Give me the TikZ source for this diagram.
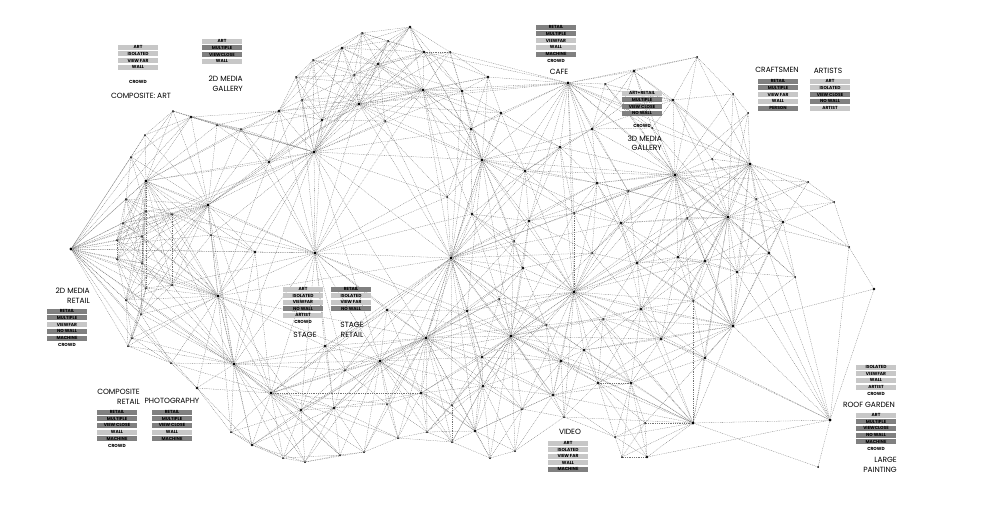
\documentclass[tikz,border=0pt]{standalone}
\usepackage{fontspec}
\setmainfont{Poppins}
\usetikzlibrary{backgrounds}

\definecolor{tagdark}{gray}{0.50}
\definecolor{taglight}{gray}{0.78}

\tikzset{
  link/.style={draw=black!55, line width=0.3pt, dash pattern=on 0.9pt off 0.9pt},
  dot/.style={circle, fill=black, inner sep=0pt},
  tagbox/.style={rectangle, minimum width=40pt, minimum height=5pt, inner sep=0pt,
    font=\fontsize{4.4}{4.4}\selectfont\bfseries},
  zonename/.style={inner sep=0pt, font=\fontsize{7.5}{9.5}\selectfont}
}

\begin{document}
\begin{tikzpicture}[x=1pt,y=-1pt]
\useasboundingbox (0,0) rectangle (1008,504);

% network points: x/y/reach
\foreach \x/\y/\r [count=\k] in {
  362/33/30, 342/48/45, 313/60/30, 378/64/45, 354/75/30, 296/77/30, 359/104/110,
  302/100/30, 279/111/45, 173/111/30, 191/117/45, 217/125/30, 241/129/30,
  322/120/45, 145/135/30, 131/157/30, 269/162/45, 314/152/120, 146/181/110,
  126/199/30, 208/205/110, 146/211/36, 172/214/36, 123/223/30, 142/236/36,
  117/240/30, 71/249/150, 255/252/45, 315/253/130, 117/259/30, 142/263/36,
  146/288/36, 172/285/36, 218/296/110, 126/300/30, 141/314/36, 132/338/30,
  128/346/30, 171/363/30, 234/364/110, 325/346/45, 380/361/110, 345/370/30,
  197/388/45, 271/393/110, 301/410/45, 334/408/45, 231/432/30, 252/445/45,
  283/458/30, 305/462/30, 340/455/30, 364/452/30, 211/235/30,
  410/27/45, 388/41/30, 424/52/45, 450/52/30, 488/77/45, 568/83/110,
  605/84/30, 634/71/45, 697/57/30, 673/100/45, 423/90/110, 462/91/45,
  385/121/30, 501/113/45, 471/129/45, 592/129/45, 560/147/45, 482/160/110,
  525/171/45, 597/183/45, 628/191/30, 675/175/110, 447/197/30, 472/214/45,
  529/221/45, 574/213/30, 621/223/45, 687/218/30, 514/241/30, 592/253/30,
  451/258/130, 523/268/45, 637/263/45, 678/257/45, 705/261/45, 574/292/110,
  387/310/45, 467/311/45, 499/299/30, 641/309/45, 603/319/30, 693/301/30,
  426/338/110, 511/336/110, 546/325/30, 661/339/45, 584/350/45, 482/357/45,
  561/361/45, 483/386/45, 421/393/45, 387/404/30, 553/395/45, 598/383/45,
  631/383/45, 452/405/30, 522/409/30, 564/417/30, 645/423/30, 693/423/110,
  427/432/30, 475/431/45, 398/438/30, 452/442/30, 490/458/30, 515/451/30,
  622/457/30, 647/457/45, 615/437/30, 623/105/30, 652/128/30,
  733/94/30, 748/113/30, 712/159/30, 750/164/110, 808/182/30, 834/202/30,
  756/199/30, 728/217/110, 783/222/45, 769/253/45, 849/247/30, 737/272/45,
  795/277/30, 874/289/45, 733/326/110, 705/358/45, 830/420/150, 818/467/30}{
  \ifnum\r<40 \def\ds{2.0}\else\ifnum\r<60 \def\ds{2.6}\else\def\ds{3.4}\fi\fi
  \node[dot, minimum size=\ds pt] (n\k) at (\x,\y) {};
  \expandafter\xdef\csname nx\k\endcsname{\x}
  \expandafter\xdef\csname ny\k\endcsname{\y}
  \expandafter\xdef\csname nr\k\endcsname{\r}
  \xdef\nn{\k}
}

% links between points that reach each other
\pgfmathtruncatemacro\nnm{\nn-1}
\begin{pgfonlayer}{background}
\foreach \i in {1,...,\nnm}{
  \pgfmathtruncatemacro\js{\i+1}
  \foreach \j in {\js,...,\nn}{
    \ifnum\numexpr(\csname nx\i\endcsname-\csname nx\j\endcsname)*(\csname nx\i\endcsname-\csname nx\j\endcsname)+(\csname ny\i\endcsname-\csname ny\j\endcsname)*(\csname ny\i\endcsname-\csname ny\j\endcsname)\relax<\numexpr(\csname nr\i\endcsname+\csname nr\j\endcsname)*(\csname nr\i\endcsname+\csname nr\j\endcsname)\relax
      \draw[link] (n\i) -- (n\j);
    \fi
  }
}
\end{pgfonlayer}

% composite: art
\foreach \t/\c [count=\k] in {ART/taglight, ISOLATED/taglight, VIEW FAR/taglight, WALL/taglight}
  \node[tagbox, fill=\c] (compart\k) at (138,{47+6.8*(\k-1)}) {\t};
\node[tagbox] (compartcrowd) at (138,82) {CROWD};
\node[zonename] (compartname) at (141,96) {COMPOSITE: ART};

% 2d media gallery
\foreach \t/\c [count=\k] in {ART/taglight, MULTIPLE/tagdark, VIEWCLOSE/tagdark, WALL/taglight}
  \node[tagbox, fill=\c] (gal2d\k) at (222,{41+6.8*(\k-1)}) {\t};
\node[zonename, align=right, anchor=east] (gal2dname) at (243,84) {2D MEDIA\\GALLERY};

% cafe
\foreach \t/\c [count=\k] in {RETAIL/tagdark, MULTIPLE/tagdark, VIEWFAR/taglight, WALL/taglight, MACHINE/tagdark, CROWD/none}
  \node[tagbox, fill=\c] (cafe\k) at (556,{27+6.8*(\k-1)}) {\t};
\node[zonename] (cafename) at (559,72) {CAFE};

% 3d media gallery
\foreach \t/\c [count=\k] in {ART+RETAIL/taglight, MULTIPLE/tagdark, VIEW CLOSE/tagdark, NO WALL/tagdark}
  \node[tagbox, fill=\c] (gal3d\k) at (642,{93+6.8*(\k-1)}) {\t};
\node[tagbox] (gal3dcrowd) at (642,126) {CROWD};
\node[zonename, align=right, anchor=east] (gal3dname) at (662,143.5) {3D MEDIA\\GALLERY};

% craftsmen
\foreach \t/\c [count=\k] in {RETAIL/tagdark, MULTIPLE/tagdark, VIEW FAR/taglight, WALL/taglight, PERSON/tagdark}
  \node[tagbox, fill=\c] (craft\k) at (778,{81+6.8*(\k-1)}) {\t};
\node[zonename] (craftname) at (777,70) {CRAFTSMEN};

% artists
\foreach \t/\c [count=\k] in {ART/taglight, ISOLATED/taglight, VIEW CLOSE/tagdark, NO WALL/tagdark, ARTIST/taglight}
  \node[tagbox, fill=\c] (artist\k) at (830,{81+6.8*(\k-1)}) {\t};
\node[zonename] (artistname) at (828,71) {ARTISTS};

% 2d media retail
\foreach \t/\c [count=\k] in {RETAIL/tagdark, MULTIPLE/tagdark, VIEWFAR/taglight, NO WALL/tagdark, MACHINE/tagdark, CROWD/none}
  \node[tagbox, fill=\c] (ret2d\k) at (67,{311+6.8*(\k-1)}) {\t};
\node[zonename, align=right, anchor=east] (ret2dname) at (90,295.5) {2D MEDIA\\RETAIL};

% stage
\foreach \t/\c [count=\k] in {ART/taglight, ISOLATED/taglight, VIEWFAR/taglight, NO WALL/tagdark, ARTIST/taglight, CROWD/none}
  \node[tagbox, fill=\c] (stage\k) at (303,{289+6.6*(\k-1)}) {\t};
\node[zonename] (stagename) at (305,335) {STAGE};

% stage retail
\foreach \t/\c [count=\k] in {RETAIL/tagdark, ISOLATED/taglight, VIEW FAR/taglight, NO WALL/tagdark}
  \node[tagbox, fill=\c] (stret\k) at (351,{289+6.6*(\k-1)}) {\t};
\node[zonename, align=center] (stretname) at (352,330) {STAGE\\RETAIL};

% composite retail
\foreach \t/\c [count=\k] in {RETAIL/tagdark, MULTIPLE/tagdark, VIEW CLOSE/tagdark, WALL/taglight, MACHINE/tagdark, CROWD/none}
  \node[tagbox, fill=\c] (compret\k) at (117,{412+6.7*(\k-1)}) {\t};
\node[zonename, align=right, anchor=east] (compretname) at (140,396.7) {COMPOSITE\\RETAIL};

% photography
\foreach \t/\c [count=\k] in {RETAIL/tagdark, MULTIPLE/tagdark, VIEW CLOSE/tagdark, WALL/taglight, MACHINE/tagdark}
  \node[tagbox, fill=\c] (photo\k) at (172,{412+6.7*(\k-1)}) {\t};
\node[zonename] (photoname) at (172,401) {PHOTOGRAPHY};

% video
\foreach \t/\c [count=\k] in {ART/taglight, ISOLATED/taglight, VIEW FAR/taglight, WALL/taglight, MACHINE/tagdark}
  \node[tagbox, fill=\c] (video\k) at (568,{443+6.6*(\k-1)}) {\t};
\node[zonename] (videoname) at (570,432) {VIDEO};

% roof garden
\foreach \t/\c [count=\k] in {ISOLATED/taglight, VIEWFAR/taglight, WALL/taglight, ARTIST/taglight, CROWD/none}
  \node[tagbox, fill=\c] (roof\k) at (876,{367+6.7*(\k-1)}) {\t};
\node[zonename] (roofname) at (869,405) {ROOF GARDEN};

% large painting
\foreach \t/\c [count=\k] in {ART/taglight, MULTIPLE/tagdark, VIEWCLOSE/tagdark, NO WALL/tagdark, MACHINE/tagdark, CROWD/none}
  \node[tagbox, fill=\c] (paint\k) at (876,{415+6.7*(\k-1)}) {\t};
\node[zonename, align=right, anchor=east] (paintname) at (897,465) {LARGE\\PAINTING};
\end{tikzpicture}
\end{document}
